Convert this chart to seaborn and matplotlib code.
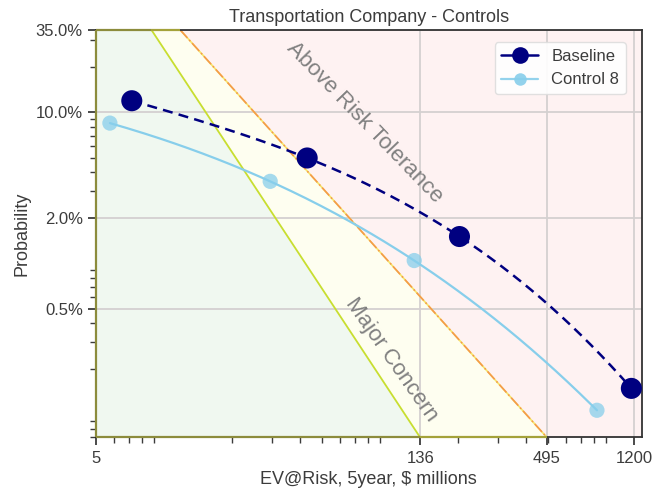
import numpy as np
import pandas as pd
import matplotlib
matplotlib.use("Agg")
import matplotlib.pyplot as plt
from matplotlib.lines import Line2D
from matplotlib.ticker import FixedLocator, FixedFormatter, LogLocator, NullFormatter
import seaborn as sns

# ---- data -------------------------------------------------------------
baseline_ev = [7.2, 43.0, 203.0, 1170.0]          # $ millions
baseline_prob = [0.119, 0.0497, 0.0150, 0.00148]  # probability
control_ev = [5.76, 29.5, 128.0, 824.0]
control_prob = [0.0846, 0.0348, 0.0104, 0.00106]

# risk boundaries (straight lines on log-log axes), given by their end points
major_concern_ev = [8.8, 136.0]
major_concern_prob = [0.35, 0.0007]
tolerance_ev = [11.8, 495.0]
tolerance_prob = [0.35, 0.0007]

x_ticks = [5, 136, 495, 1200]
x_ticklabels = ["5", "136", "495", "1200"]
y_ticks = [0.005, 0.02, 0.10, 0.35]
y_ticklabels = ["0.5%", "2.0%", "10.0%", "35.0%"]
x_lim = (5, 1300)
y_lim = (0.0007, 0.35)

# ---- style ------------------------------------------------------------
sns.set_style("ticks")
plt.rcParams["font.family"] = ["Liberation Sans", "DejaVu Sans"]
text_dark = "#3c3c3c"
plt.rcParams["text.color"] = text_dark
plt.rcParams["axes.labelcolor"] = text_dark
plt.rcParams["xtick.color"] = text_dark
plt.rcParams["ytick.color"] = text_dark

W, H = 654, 495
fig = plt.figure(figsize=(W / 100, H / 100), dpi=100)
ax = fig.add_axes([0.1468, 0.1162, 0.8344, 0.8232])
ax.set_xscale("log")
ax.set_yscale("log")
ax.set_xlim(*x_lim)
ax.set_ylim(*y_lim)


def boundary(ev, prob):
    lx, ly = np.log10(ev), np.log10(prob)
    slope = (ly[1] - ly[0]) / (lx[1] - lx[0])
    return lambda x: 10 ** (ly[0] + slope * (np.log10(x) - lx[0]))


concern = boundary(major_concern_ev, major_concern_prob)
tolerance = boundary(tolerance_ev, tolerance_prob)

xs = np.logspace(np.log10(x_lim[0]), np.log10(x_lim[1]), 600)
lo, hi = y_lim
c_line = np.clip(concern(xs), lo, hi)
t_line = np.clip(tolerance(xs), lo, hi)

# shaded risk zones
ax.fill_between(xs, lo, c_line, color="#f0f8f0", lw=0, zorder=0)
ax.fill_between(xs, c_line, t_line, color="#fefef0", lw=0, zorder=0)
ax.fill_between(xs, t_line, hi, color="#fef2f2", lw=0, zorder=0)

ax.grid(True, which="major", color="#d4d0d0", lw=1.3, zorder=0.5)

ax.plot(major_concern_ev, major_concern_prob, color="#c8de30", lw=1.3, zorder=1)
ax.plot(tolerance_ev, tolerance_prob, color="#f5e56a", lw=1.2, zorder=1)
ax.plot(tolerance_ev, tolerance_prob, color="#f49a4a", lw=1.2, ls="-.", zorder=1.1)


def label_at(px, py, text, angle):
    # px, py measured in pixels from the top-left corner of the figure
    ax.text(px / W, 1 - py / H, text, transform=fig.transFigure, fontsize=16,
            color="#808080", rotation=angle, ha="center", va="center",
            rotation_mode="anchor")


label_at(365, 122, "Above Risk Tolerance", -46)
label_at(391, 360, "Major Concern", -55)


# smooth curves through the points (cubic in log-log space)
def smooth(ev, prob):
    lx, ly = np.log10(ev), np.log10(prob)
    coef = np.polyfit(lx, ly, len(ev) - 1)
    gx = np.linspace(lx[0], lx[-1], 200)
    return pd.DataFrame({"ev": 10 ** gx, "prob": 10 ** np.polyval(coef, gx)})


base_curve = smooth(baseline_ev, baseline_prob)
ctrl_curve = smooth(control_ev, control_prob)

sns.lineplot(data=ctrl_curve, x="ev", y="prob", ax=ax, color="#87ceeb",
             lw=1.6, sort=False, zorder=3)
sns.scatterplot(x=control_ev, y=control_prob, ax=ax, color="#87ceeb",
                s=120, alpha=0.75, edgecolor="none", zorder=4)
sns.lineplot(data=base_curve, x="ev", y="prob", ax=ax, color="#000080",
             lw=1.8, sort=False, zorder=5)
ax.lines[-1].set_linestyle((0, (4, 2.5)))
sns.scatterplot(x=baseline_ev, y=baseline_prob, ax=ax, color="#000080",
                s=230, edgecolor="none", zorder=6)

# ticks
ax.xaxis.set_major_locator(FixedLocator(x_ticks))
ax.xaxis.set_major_formatter(FixedFormatter(x_ticklabels))
ax.xaxis.set_minor_locator(LogLocator(base=10, subs="auto", numticks=20))
ax.xaxis.set_minor_formatter(NullFormatter())
ax.yaxis.set_major_locator(FixedLocator(y_ticks))
ax.yaxis.set_major_formatter(FixedFormatter(y_ticklabels))
ax.yaxis.set_minor_locator(LogLocator(base=10, subs="auto", numticks=20))
ax.yaxis.set_minor_formatter(NullFormatter())
ax.tick_params(which="major", length=6, width=1.3, labelsize=12, colors=text_dark)
ax.tick_params(which="minor", length=4, width=1.0, colors=text_dark)

for side in ["left", "right", "top", "bottom"]:
    ax.spines[side].set_visible(True)
    ax.spines[side].set_color("#333333")
    ax.spines[side].set_linewidth(1.3)

# zone colours running along the frame
olive = "#8c8c3c"
yolive = "#a4a23a"
edge_kw = dict(lw=1.6, clip_on=False, zorder=7, solid_capstyle="butt")
ax.plot([x_lim[0], x_lim[0]], [lo, hi], color=olive, **edge_kw)
ax.plot([x_lim[0], major_concern_ev[1]], [lo, lo], color=olive, **edge_kw)
ax.plot([major_concern_ev[1], tolerance_ev[1]], [lo, lo], color=yolive, **edge_kw)
ax.plot([x_lim[0], major_concern_ev[0]], [hi, hi], color=olive, **edge_kw)
ax.plot([major_concern_ev[0], tolerance_ev[0]], [hi, hi], color=yolive, **edge_kw)

ax.set_xlabel("EV@Risk, 5year, $ millions", fontsize=13)
ax.set_ylabel("Probability", fontsize=13)
ax.set_title("Transportation Company - Controls", fontsize=13, pad=6)

handles = [
    Line2D([], [], color="#000080", lw=1.8, marker="o", markersize=12,
           markeredgewidth=0),
    Line2D([], [], color="#87ceeb", lw=1.6, marker="o", markersize=9,
           alpha=0.9, markeredgewidth=0),
]
leg = ax.legend(handles, ["Baseline", "Control 8"], loc="upper right",
                fontsize=12, frameon=True, framealpha=0.9, handlelength=2.2,
                bbox_to_anchor=(0.986, 0.99))
leg.get_frame().set_edgecolor("#dddddd")
leg.set_zorder(10)

fig.savefig("out.png", dpi=100)
